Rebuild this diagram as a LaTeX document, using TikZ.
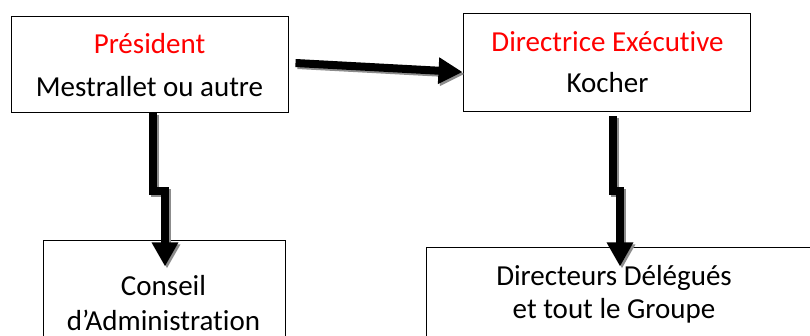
\documentclass[tikz,border=0pt]{standalone}
\usepackage{fontspec}
\setmainfont[Ligatures=NoCommon]{Carlito}
\usetikzlibrary{arrows.meta,calc}
\definecolor{redtxt}{RGB}{255,0,0}
\tikzset{
  box/.style={draw=black, line width=1pt, rectangle, inner sep=0pt},
  lbl/.style={anchor=base, inner sep=0pt, font=\fontsize{29}{35}\selectfont},
  bigarrow/.style={line width=8pt, miter limit=10, -{Triangle[length=24pt,width=25pt]}},
  shadowarrow/.style={bigarrow, draw=black!45, transform canvas={xshift=2pt,yshift=-2pt}},
}
\begin{document}
\begin{tikzpicture}[x=1pt,y=-1pt]
\useasboundingbox (0,0) rectangle (810,336);
\clip (0,0) rectangle (810,336);
\fill[white] (0,0) rectangle (810,336);
% boxes
\node[box, minimum width=277pt, minimum height=96pt] (p) at (149.5,65) {};
\node[box, minimum width=287pt, minimum height=98pt] (d) at (606.5,63) {};
\node[box, minimum width=242pt, minimum height=120pt] (c) at (164,301) {};
\node[box, minimum width=474pt, minimum height=120pt] (g) at (663,308) {};
% texts
\node[lbl, text=redtxt] (pt1) at (149.5,54) {Président};
\node[lbl] (pt2) at (149.5,97) {Mestrallet ou autre};
\node[lbl, text=redtxt] (dt1) at (607.5,52) {Directrice Exécutive};
\node[lbl] (dt2) at (607.5,93) {Kocher};
\node[lbl] (ct1) at (163.5,295) {Conseil};
\node[lbl] (ct2) at (163.5,330) {d’Administration};
\node[lbl] (gt1) at (614,285) {Directeurs Délégués};
\node[lbl] (gt2) at (614,318) {et tout le Groupe};
% arrows: shadows
\draw[shadowarrow] ($(p.east)+(7,-2)$) -- ($(d.west)+(0,9)$);
\draw[shadowarrow] ($(p.south)+(3.5,0)$) -- ++(0,78) -- ++(12,0) -- ($(c.north)+(1,26)$);
\draw[shadowarrow] ($(d.south)+(6.5,4)$) -- ++(0,75) -- ++(7,0) -- ($(g.north)+(-43,19)$);
% arrows
\draw[bigarrow] ($(p.east)+(7,-2)$) -- ($(d.west)+(0,9)$);
\draw[bigarrow] ($(p.south)+(3.5,0)$) -- ++(0,78) -- ++(12,0) -- ($(c.north)+(1,26)$);
\draw[bigarrow] ($(d.south)+(6.5,4)$) -- ++(0,75) -- ++(7,0) -- ($(g.north)+(-43,19)$);
\end{tikzpicture}
\end{document}
